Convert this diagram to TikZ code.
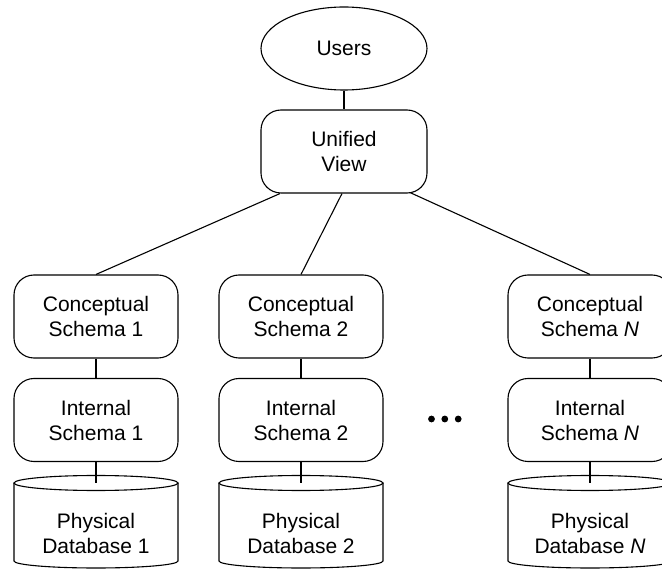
\documentclass[tikz,border=0pt]{standalone}
\usepackage{fontspec}
\setmainfont{Liberation Sans}
\usetikzlibrary{shapes.geometric,calc}
\begin{document}
\begin{tikzpicture}[x=1pt,y=-1pt,line width=1.1pt,
  font=\fontsize{21}{25}\selectfont,
  rbox/.style={draw,rounded corners=20pt,minimum width=164pt,minimum height=83pt,inner sep=0pt,align=center},
  ubox/.style={rbox,minimum width=166pt},
  uell/.style={draw,ellipse,minimum width=166pt,minimum height=83pt,inner sep=0pt},
  dbtext/.style={inner sep=0pt,align=center}]
\useasboundingbox (0,0) rectangle (662,569);
\clip (0,0) rectangle (662,569);
\node[uell] (users) at (344,48.5) {Users};
\node[ubox] (uv) at (344,151.5) {Unified\\View};
\foreach \n/\x/\l in {1/96/1,2/301/2,N/590/\textit{N}}{
  \node[rbox] (c\n) at (\x,316.5) {Conceptual\\Schema \l};
  \node[rbox] (i\n) at (\x,420) {Internal\\Schema \l};
  \draw (\x-82,483) -- (\x-82,561) arc[start angle=180,end angle=0,x radius=82,y radius=7] -- (\x+82,483);
  \draw (\x,483) ellipse[x radius=82,y radius=7.5];
  \coordinate (d\n) at (\x,483);
  \node[dbtext] (p\n) at (\x,533) {Physical\\Database \l};
  \draw (c\n.south) -- (i\n.north);
  \draw (i\n.south) -- (d\n);
}
\draw (users.south) -- (uv.north);
\draw ($(uv.south)+(-64,0)$) -- (c1.north);
\draw ($(uv.south)+(-2,0)$) -- (c2.north);
\draw ($(uv.south)+(66,-1)$) -- (cN.north);
\foreach \x in {431.5,444.8,458.2} \fill (\x,419) circle[radius=3.4];
\end{tikzpicture}
\end{document}
